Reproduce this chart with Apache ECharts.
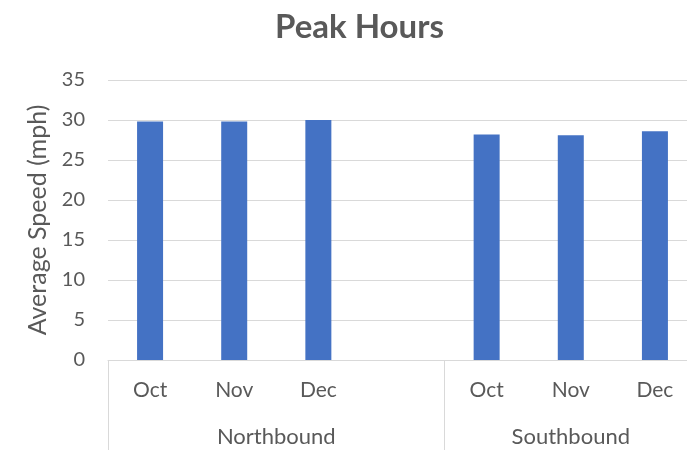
<!DOCTYPE html>
<html>
<head>
<meta charset="utf-8">
<script src="https://cdn.jsdelivr.net/npm/echarts@6/dist/echarts.min.js"></script>
<style>
  html, body { margin: 0; padding: 0; background: #fff; }
  #chart { width: 687px; height: 450px; }
</style>
</head>
<body>
<div id="chart"></div>
<script>
  // months, with an empty slot between the two directions
  const months = ['Oct', 'Nov', 'Dec', '', 'Oct', 'Nov', 'Dec'];
  const speeds = [29.8, 29.8, 30.0, null, 28.2, 28.1, 28.6];
  // group axis runs on half slots: label at index 4 and 11, separators at 0, 8, 14
  const groups = ['', '', '', '', 'Northbound', '', '', '', '', '', '', 'Southbound', '', '', ''];
  const groupEdges = [0, 8, 14];
  const yTicks = [0, 5, 10, 15, 20, 25, 30, 35];

  const textColor = '#595959';
  const lineColor = '#d9d9d9';
  const font = 'Lato, "Open Sans", sans-serif';

  let myChart = echarts.init(document.getElementById('chart'));
  let option = {
    title: {
      text: 'Peak Hours',
      left: 270,
      top: 6,
      textStyle: { color: textColor, fontSize: 33, fontWeight: 'bold', fontFamily: font }
    },
    // plot runs a bit past the right edge, like the cropped original
    grid: { left: 108, width: 589, top: 80, bottom: 90, outerBoundsMode: 'none' },
    xAxis: [{
      type: 'category',
      data: months,
      axisLine: { lineStyle: { color: lineColor, width: 1 } },
      axisTick: { show: false },
      axisLabel: { color: textColor, fontSize: 21, fontFamily: font, margin: 20, interval: 0 }
    }, {
      type: 'category',
      data: groups,
      position: 'bottom',
      boundaryGap: false,
      axisLine: { show: false },
      axisTick: {
        show: true,
        length: 92,
        lineStyle: { color: lineColor },
        interval: (i) => groupEdges.indexOf(i) >= 0
      },
      axisLabel: {
        color: textColor, fontSize: 22, fontFamily: font, margin: 66,
        interval: (i, v) => v !== ''
      }
    }],
    yAxis: {
      type: 'value',
      min: yTicks[0],
      max: yTicks[yTicks.length - 1],
      interval: 5,
      name: 'Average Speed (mph)',
      nameLocation: 'middle',
      nameRotate: 90,
      nameGap: 58,
      nameTextStyle: { color: textColor, fontSize: 25, fontFamily: font },
      axisLine: { show: false },
      axisTick: { show: false },
      axisLabel: { color: textColor, fontSize: 20, fontFamily: font, margin: 23 },
      splitLine: { lineStyle: { color: lineColor, width: 1 } }
    },
    series: [{
      type: 'bar',
      data: speeds,
      barWidth: 26,
      itemStyle: { color: '#4472c4' }
    }]
  };
  myChart.setOption(option, true);
</script>
</body>
</html>
